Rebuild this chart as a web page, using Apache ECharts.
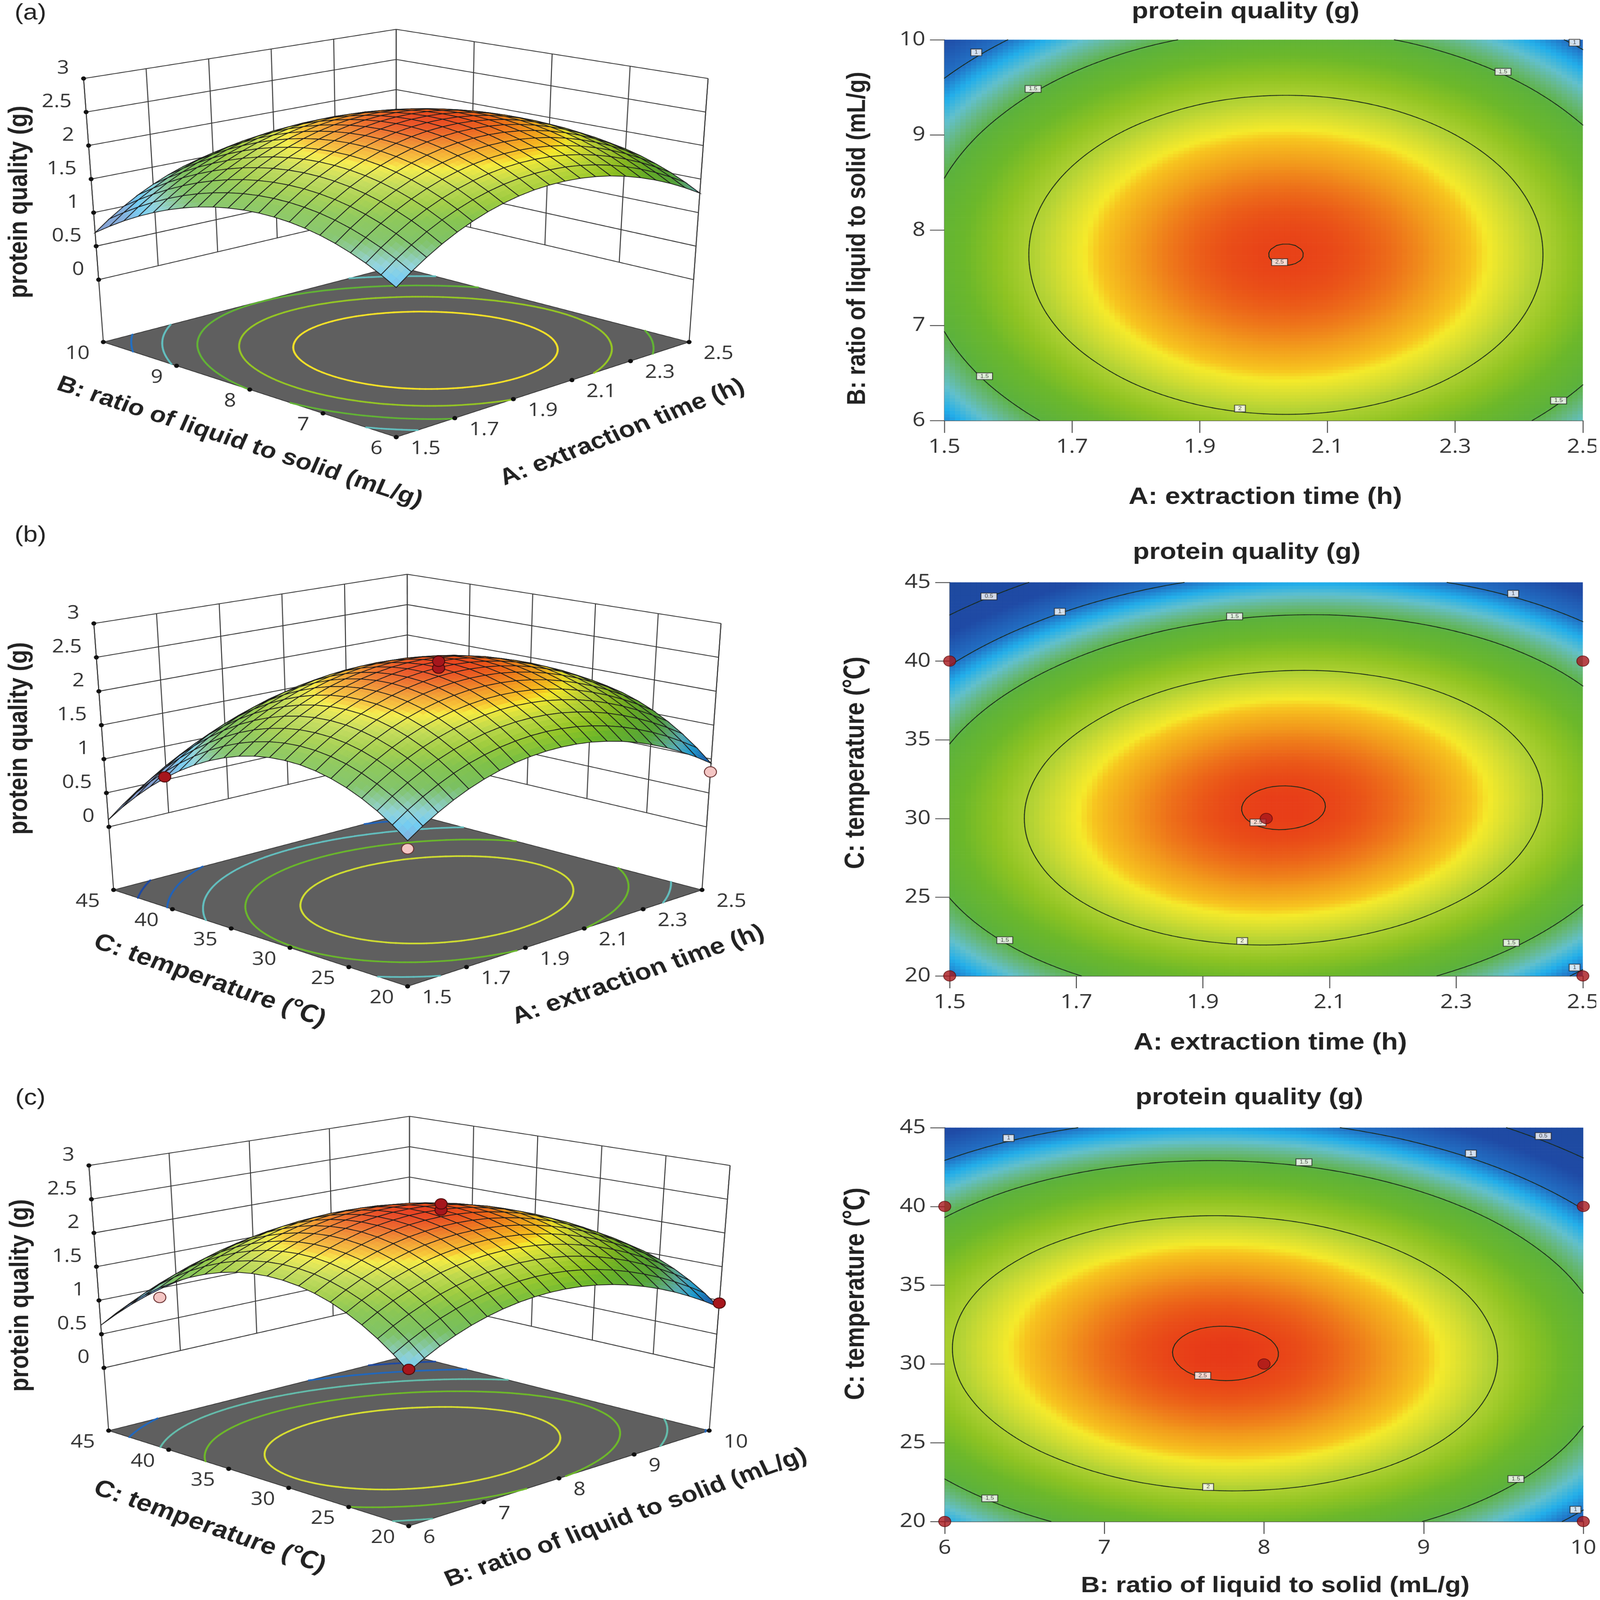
<!DOCTYPE html>
<html><head><meta charset="utf-8"><style>html,body{margin:0;padding:0;background:#fff;overflow:hidden}#c{width:4212px;height:4912px;transform-origin:0 0}</style>
<script src="https://cdn.jsdelivr.net/npm/echarts@6/dist/echarts.min.js"></script></head><body><div id="c"></div>
<script>
const A_TICKS=[1.5,1.7,1.9,2.1,2.3,2.5];
const B_TICKS=[6,7,8,9,10];
const C_TICKS=[20,25,30,35,40,45];
const Z_TICKS=[0,0.5,1,1.5,2,2.5,3];
// rows: second factor ascending, columns: first factor ascending (21 x 21)
const valuesAB=[
[1.074,1.232,1.374,1.502,1.613,1.709,1.790,1.855,1.905,1.939,1.957,1.960,1.948,1.920,1.877,1.818,1.743,1.653,1.548,1.427,1.291],
[1.191,1.349,1.491,1.619,1.730,1.826,1.907,1.972,2.022,2.056,2.074,2.077,2.065,2.037,1.994,1.935,1.860,1.770,1.665,1.544,1.408],
[1.295,1.453,1.595,1.723,1.834,1.930,2.011,2.076,2.126,2.160,2.178,2.181,2.169,2.141,2.098,2.039,1.964,1.874,1.769,1.648,1.512],
[1.383,1.541,1.683,1.811,1.922,2.018,2.099,2.164,2.214,2.248,2.266,2.269,2.257,2.229,2.186,2.127,2.052,1.962,1.857,1.736,1.600],
[1.458,1.616,1.758,1.886,1.997,2.093,2.174,2.239,2.289,2.323,2.341,2.344,2.332,2.304,2.261,2.202,2.127,2.037,1.932,1.811,1.675],
[1.518,1.676,1.818,1.946,2.057,2.153,2.234,2.299,2.349,2.383,2.401,2.404,2.392,2.364,2.321,2.262,2.187,2.097,1.992,1.871,1.735],
[1.564,1.722,1.864,1.992,2.103,2.199,2.280,2.345,2.395,2.429,2.447,2.450,2.438,2.410,2.367,2.308,2.233,2.143,2.038,1.917,1.781],
[1.595,1.753,1.895,2.023,2.134,2.230,2.311,2.376,2.426,2.460,2.478,2.481,2.469,2.441,2.398,2.339,2.264,2.174,2.069,1.948,1.812],
[1.612,1.770,1.912,2.040,2.151,2.247,2.328,2.393,2.443,2.477,2.495,2.498,2.486,2.458,2.415,2.356,2.281,2.191,2.086,1.965,1.829],
[1.615,1.773,1.915,2.043,2.154,2.250,2.331,2.396,2.446,2.480,2.498,2.501,2.489,2.461,2.418,2.359,2.284,2.194,2.089,1.968,1.832],
[1.604,1.762,1.904,2.032,2.143,2.239,2.320,2.385,2.435,2.469,2.487,2.490,2.478,2.450,2.407,2.348,2.273,2.183,2.078,1.957,1.821],
[1.578,1.736,1.878,2.006,2.117,2.213,2.294,2.359,2.409,2.443,2.461,2.464,2.452,2.424,2.381,2.322,2.247,2.157,2.052,1.931,1.795],
[1.538,1.696,1.838,1.966,2.077,2.173,2.254,2.319,2.369,2.403,2.421,2.424,2.412,2.384,2.341,2.282,2.207,2.117,2.012,1.891,1.755],
[1.484,1.642,1.784,1.912,2.023,2.119,2.200,2.265,2.315,2.349,2.367,2.370,2.358,2.330,2.287,2.228,2.153,2.063,1.958,1.837,1.701],
[1.415,1.573,1.715,1.843,1.954,2.050,2.131,2.196,2.246,2.280,2.298,2.301,2.289,2.261,2.218,2.159,2.084,1.994,1.889,1.768,1.632],
[1.332,1.490,1.632,1.760,1.871,1.967,2.048,2.113,2.163,2.197,2.215,2.218,2.206,2.178,2.135,2.076,2.001,1.911,1.806,1.685,1.549],
[1.234,1.392,1.534,1.662,1.773,1.869,1.950,2.015,2.065,2.099,2.117,2.120,2.108,2.080,2.037,1.978,1.903,1.813,1.708,1.587,1.451],
[1.123,1.281,1.423,1.551,1.662,1.758,1.839,1.904,1.954,1.988,2.006,2.009,1.997,1.969,1.926,1.867,1.792,1.702,1.597,1.476,1.340],
[0.997,1.155,1.297,1.425,1.536,1.632,1.713,1.778,1.828,1.862,1.880,1.883,1.871,1.843,1.800,1.741,1.666,1.576,1.471,1.350,1.214],
[0.856,1.014,1.156,1.284,1.395,1.491,1.572,1.637,1.687,1.721,1.739,1.742,1.730,1.702,1.659,1.600,1.525,1.435,1.330,1.209,1.073],
[0.702,0.860,1.002,1.130,1.241,1.337,1.418,1.483,1.533,1.567,1.585,1.588,1.576,1.548,1.505,1.446,1.371,1.281,1.176,1.055,0.919]];
const valuesAC=[
[1.007,1.149,1.276,1.389,1.486,1.567,1.632,1.684,1.718,1.738,1.742,1.731,1.705,1.662,1.605,1.533,1.444,1.341,1.222,1.088,0.938],
[1.163,1.307,1.436,1.549,1.648,1.731,1.797,1.850,1.885,1.907,1.913,1.902,1.878,1.836,1.781,1.710,1.622,1.521,1.404,1.270,1.122],
[1.298,1.443,1.573,1.688,1.788,1.872,1.940,1.994,2.031,2.054,2.061,2.052,2.029,1.989,1.935,1.865,1.779,1.679,1.563,1.431,1.284],
[1.411,1.558,1.689,1.806,1.907,1.992,2.062,2.117,2.155,2.180,2.188,2.180,2.159,2.120,2.068,1.999,1.914,1.816,1.701,1.570,1.425],
[1.504,1.652,1.784,1.902,2.005,2.092,2.162,2.219,2.259,2.285,2.294,2.288,2.268,2.231,2.179,2.112,2.029,1.932,1.818,1.689,1.545],
[1.575,1.725,1.859,1.978,2.082,2.170,2.242,2.300,2.341,2.369,2.380,2.375,2.356,2.320,2.270,2.204,2.122,2.026,1.915,1.787,1.644],
[1.626,1.776,1.912,2.032,2.138,2.227,2.301,2.360,2.403,2.431,2.444,2.440,2.423,2.388,2.340,2.275,2.195,2.100,1.990,1.863,1.722],
[1.656,1.807,1.944,2.066,2.173,2.264,2.339,2.400,2.443,2.473,2.487,2.485,2.469,2.436,2.389,2.325,2.246,2.153,2.044,1.919,1.779],
[1.663,1.816,1.954,2.078,2.186,2.278,2.354,2.417,2.462,2.493,2.508,2.508,2.493,2.461,2.415,2.354,2.276,2.184,2.076,1.953,1.814],
[1.650,1.804,1.944,2.068,2.178,2.272,2.349,2.413,2.459,2.492,2.509,2.509,2.496,2.466,2.421,2.361,2.284,2.194,2.088,1.965,1.828],
[1.615,1.771,1.912,2.038,2.149,2.244,2.323,2.388,2.436,2.470,2.488,2.490,2.478,2.449,2.406,2.347,2.272,2.183,2.078,1.957,1.821],
[1.560,1.717,1.859,1.987,2.099,2.195,2.276,2.342,2.391,2.427,2.446,2.450,2.439,2.411,2.370,2.312,2.238,2.151,2.047,1.927,1.793],
[1.482,1.641,1.785,1.913,2.027,2.125,2.206,2.274,2.325,2.362,2.382,2.387,2.378,2.352,2.311,2.255,2.183,2.097,1.994,1.876,1.743],
[1.384,1.544,1.689,1.819,1.934,2.033,2.116,2.185,2.237,2.276,2.298,2.304,2.296,2.271,2.232,2.177,2.106,2.022,1.921,1.804,1.672],
[1.265,1.427,1.573,1.705,1.821,1.922,2.006,2.076,2.130,2.169,2.193,2.200,2.194,2.170,2.133,2.079,2.010,1.926,1.827,1.711,1.581],
[1.125,1.287,1.435,1.568,1.686,1.788,1.874,1.946,2.000,2.041,2.066,2.075,2.070,2.048,2.012,1.960,1.891,1.809,1.711,1.597,1.468],
[0.962,1.126,1.276,1.410,1.529,1.632,1.720,1.793,1.849,1.891,1.917,1.928,1.924,1.903,1.868,1.818,1.751,1.670,1.573,1.461,1.333],
[0.780,0.945,1.096,1.231,1.352,1.457,1.545,1.620,1.677,1.721,1.749,1.760,1.758,1.739,1.705,1.656,1.590,1.511,1.416,1.304,1.178],
[0.575,0.742,0.894,1.031,1.153,1.259,1.349,1.425,1.484,1.529,1.558,1.571,1.570,1.552,1.520,1.472,1.408,1.330,1.236,1.126,1.001],
[0.351,0.519,0.672,0.811,0.934,1.041,1.133,1.210,1.271,1.317,1.347,1.362,1.362,1.345,1.315,1.268,1.205,1.129,1.036,0.928,0.804],
[0.104,0.274,0.429,0.568,0.693,0.802,0.895,0.973,1.035,1.083,1.115,1.130,1.132,1.117,1.087,1.042,0.981,0.906,0.814,0.707,0.585]];
const valuesBC=[
[1.144,1.267,1.377,1.472,1.553,1.619,1.671,1.709,1.733,1.742,1.737,1.718,1.684,1.636,1.574,1.497,1.407,1.302,1.182,1.049,0.901],
[1.322,1.444,1.553,1.648,1.727,1.793,1.845,1.882,1.905,1.914,1.908,1.889,1.854,1.805,1.743,1.665,1.574,1.469,1.349,1.214,1.066],
[1.477,1.599,1.707,1.801,1.880,1.946,1.997,2.033,2.056,2.064,2.057,2.037,2.002,1.952,1.889,1.812,1.720,1.614,1.493,1.358,1.209],
[1.612,1.733,1.841,1.934,2.012,2.077,2.127,2.163,2.185,2.193,2.185,2.165,2.129,2.079,2.015,1.937,1.844,1.737,1.616,1.480,1.331],
[1.725,1.846,1.953,2.046,2.123,2.187,2.237,2.272,2.294,2.301,2.292,2.271,2.235,2.184,2.120,2.041,1.948,1.840,1.718,1.582,1.432],
[1.817,1.937,2.043,2.135,2.212,2.276,2.325,2.359,2.380,2.386,2.378,2.356,2.319,2.267,2.203,2.123,2.029,1.921,1.798,1.662,1.511],
[1.887,2.007,2.112,2.204,2.280,2.343,2.392,2.425,2.446,2.451,2.442,2.420,2.382,2.330,2.264,2.184,2.090,1.981,1.858,1.720,1.569],
[1.937,2.056,2.160,2.251,2.327,2.389,2.437,2.470,2.490,2.495,2.485,2.462,2.424,2.371,2.305,2.224,2.129,2.020,1.896,1.758,1.606],
[1.964,2.082,2.187,2.277,2.352,2.414,2.461,2.493,2.513,2.517,2.506,2.483,2.444,2.390,2.324,2.242,2.146,2.037,1.912,1.773,1.621],
[1.970,2.088,2.192,2.282,2.356,2.417,2.464,2.495,2.514,2.518,2.507,2.482,2.443,2.389,2.322,2.239,2.143,2.033,1.907,1.768,1.615],
[1.955,2.072,2.175,2.264,2.338,2.398,2.445,2.476,2.494,2.497,2.485,2.460,2.420,2.365,2.297,2.214,2.117,2.006,1.881,1.741,1.587],
[1.920,2.036,2.138,2.227,2.300,2.360,2.405,2.436,2.453,2.456,2.443,2.418,2.377,2.321,2.253,2.169,2.072,1.960,1.834,1.693,1.539],
[1.862,1.978,2.080,2.167,2.240,2.299,2.344,2.374,2.391,2.393,2.379,2.353,2.312,2.256,2.187,2.103,2.004,1.892,1.765,1.624,1.469],
[1.782,1.898,1.999,2.086,2.158,2.216,2.261,2.290,2.306,2.307,2.294,2.267,2.225,2.168,2.098,2.014,1.915,1.802,1.674,1.533,1.377],
[1.682,1.797,1.897,1.984,2.055,2.113,2.156,2.185,2.201,2.201,2.187,2.159,2.117,2.060,1.989,1.904,1.804,1.691,1.562,1.420,1.264],
[1.560,1.674,1.774,1.860,1.931,1.988,2.031,2.059,2.074,2.074,2.059,2.031,1.988,1.930,1.859,1.773,1.673,1.559,1.430,1.287,1.130],
[1.418,1.531,1.631,1.716,1.786,1.843,1.885,1.912,1.927,1.926,1.910,1.882,1.838,1.779,1.708,1.621,1.520,1.406,1.276,1.132,0.975],
[1.253,1.366,1.465,1.549,1.619,1.675,1.717,1.743,1.757,1.756,1.740,1.710,1.666,1.607,1.534,1.447,1.346,1.231,1.100,0.956,0.798],
[1.068,1.180,1.278,1.362,1.431,1.486,1.527,1.554,1.567,1.565,1.548,1.518,1.473,1.413,1.340,1.252,1.150,1.034,0.903,0.758,0.600],
[0.860,0.972,1.069,1.153,1.221,1.276,1.316,1.342,1.354,1.352,1.334,1.303,1.258,1.197,1.124,1.035,0.933,0.816,0.685,0.539,0.380],
[0.632,0.743,0.840,0.922,0.990,1.044,1.084,1.109,1.121,1.117,1.099,1.068,1.022,0.961,0.887,0.797,0.694,0.577,0.445,0.299,0.139]];
const contourLevelsAB=[1,1.5,2,2.5];
const contourLevelsAC=[0.5,1,1.5,2,2.5];
const contourLevelsBC=[0.5,1,1.5,2,2.5];
const floorLevelsAB=[1,1.3,1.6,1.9,2.2];
const floorLevelsAC=[0.5,0.9,1.3,1.7,2.1];
const floorLevelsBC=[0.54,0.94,1.33,1.73,2.12];
const contourTagsAB=[[1.55,9.867,'1'],[1.639,9.483,'1.5'],[2.375,9.664,'1.5'],[2.487,9.969,'1'],[1.563,6.465,'1.5'],[1.963,6.126,'2'],[2.462,6.21,'1.5'],[2.025,7.664,'2.5']];
const contourTagsAC=[[1.562,44.11,'0.5'],[1.674,43.14,'1'],[1.95,42.84,'1.5'],[2.39,44.28,'1'],[1.587,22.27,'1.5'],[1.962,22.22,'2'],[2.387,22.1,'1.5'],[2.487,20.53,'1'],[1.987,29.75,'2.5']];
const contourTagsBC=[[6.4,44.34,'1'],[8.25,42.81,'1.5'],[9.296,43.36,'1'],[9.749,44.47,'0.5'],[6.282,21.47,'1.5'],[7.65,22.19,'2'],[9.578,22.7,'1.5'],[9.951,20.75,'1'],[7.616,29.26,'2.5']];
const runsAC=[[1.5,40],[2.5,40],[1.5,20],[2.5,20],[2,30]];
const runsBC=[[6,40],[10,40],[6,20],[10,20],[8,30]];
const runsAC3D=[[1.5,20,0.90,'low'],[2.5,20,0.81,'low'],[1.5,40,0.98,'high'],[2,30,2.50,'high'],[2,30,2.60,'high']];
const runsBC3D=[[6,40,1.28,'low'],[6,20,1.17,'high'],[10,20,0.96,'high'],[8,30,2.50,'high'],[8,30,2.59,'high']];

const colorStops=[[0,'#1d4a9e'],[0.7,'#1f4aa5'],[1.0,'#2270c4'],[1.15,'#22aeea'],[1.28,'#62c0cc'],[1.4,'#66b880'],[1.52,'#5cb23c'],[1.72,'#6cb82a'],[1.88,'#90c422'],[2.03,'#b5d335'],[2.14,'#e0e230'],[2.19,'#f5ea2a'],[2.235,'#f7c51f'],[2.335,'#f29a1c'],[2.467,'#ea5218'],[2.52,'#e73818']]
 .map(s=>[s[0],[parseInt(s[1].slice(1,3),16),parseInt(s[1].slice(3,5),16),parseInt(s[1].slice(5,7),16)]]);
function rampRGB(v){
  if(v<=colorStops[0][0])return colorStops[0][1];
  for(let k=1;k<colorStops.length;k++){ if(v<=colorStops[k][0]){const a=colorStops[k-1],b=colorStops[k],t=(v-a[0])/(b[0]-a[0]);return [0,1,2].map(c=>a[1][c]+(b[1][c]-a[1][c])*t);} }
  return colorStops[colorStops.length-1][1];
}
const css=c=>'rgb('+Math.round(c[0])+','+Math.round(c[1])+','+Math.round(c[2])+')';
const NUM='"Open Sans","Liberation Sans",sans-serif';
const BOLD='"Liberation Sans","Noto Sans CJK SC",sans-serif';
const Z_FLOOR=-0.93,Z_TOP=3;
const NAME_A='A: extraction time (h)',NAME_B='B: ratio of liquid to solid (mL/g)',NAME_C='C: temperature (℃)',NAME_Z='protein quality (g)';

const panels=[
 {label:'(a)',labelY:41,xT:A_TICKS,yT:B_TICKS,M:valuesAB,lv:contourLevelsAB,fl:floorLevelsAB,tags:contourTagsAB,runs:[],runs3D:[],
  grid:[2486,4168,122,1291],title:[3279,36],
  xText:[NAME_A,3331,1527,72],yText:[NAME_B,2258,732,69],
  f:{F:[1043,1342],R:[1814,1050],L:[272,1050],B:[1043,817]},t:{F:[1043,441],R:[1864,241],L:[220,241],B:[1043,90]},
  zName:[52,620],uText:[NAME_A,1638,1328,70,24.5],vText:[NAME_B,631,1358,69,20.7]},
 {label:'(b)',labelY:1644,xT:A_TICKS,yT:C_TICKS,M:valuesAC,lv:contourLevelsAC,fl:floorLevelsAC,tags:contourTagsAC,runs:runsAC,runs3D:runsAC3D,
  grid:[2500,4168,1788,2996],title:[3282,1696],
  xText:[NAME_A,3344,3202,72],yText:[NAME_C,2254,2342,72],
  f:{F:[1073,3028],R:[1848,2732],L:[299,2732],B:[1073,2495]},t:{F:[1073,2121],R:[1898,1914],L:[247,1914],B:[1072,1763]},
  zName:[52,2267],uText:[NAME_A,1680,2993,71,22],vText:[NAME_C,552,3011,72,22]},
 {label:'(c)',labelY:3372,xT:B_TICKS,yT:C_TICKS,M:valuesBC,lv:contourLevelsBC,fl:floorLevelsBC,tags:contourTagsBC,runs:runsBC,runs3D:runsBC3D,
  grid:[2487,4168,3462,4671],title:[3289,3370],
  xText:[NAME_B,3357,4869,69],yText:[NAME_C,2254,3972,72],
  f:{F:[1076,4685],R:[1867,4392],L:[286,4392],B:[1078,4160]},t:{F:[1076,3785],R:[1922,3578],L:[234,3578],B:[1078,3427]},
  zName:[55,3977],uText:[NAME_B,1648,4660,69,22.3],vText:[NAME_C,552,4688,72,22]}
];

// fine resampling used only to trace smooth contour curves from the grid
const FN=100,SUB=5;
function at(M,j,i){
  if(i<0)return 3*at(M,j,0)-3*at(M,j,1)+at(M,j,2);
  if(i>20)return 3*at(M,j,20)-3*at(M,j,19)+at(M,j,18);
  if(j<0)return 3*at(M,0,i)-3*at(M,1,i)+at(M,2,i);
  if(j>20)return 3*at(M,20,i)-3*at(M,19,i)+at(M,18,i);
  return M[j][i];
}
const cr=(a,b,c,d,t)=>0.5*(2*b+(c-a)*t+(2*a-5*b+4*c-d)*t*t+(3*b-a-3*c+d)*t*t*t);
function fine(M){
  const F=[];
  for(let y=0;y<=FN;y++){const jy=Math.min(Math.floor(y/SUB),19),ty=y/SUB-jy;const row=[];
    for(let x=0;x<=FN;x++){const ix=Math.min(Math.floor(x/SUB),19),tx=x/SUB-ix;const c=[];
      for(let q=-1;q<=2;q++)c.push(cr(at(M,jy+q,ix-1),at(M,jy+q,ix),at(M,jy+q,ix+1),at(M,jy+q,ix+2),tx));
      row.push(cr(c[0],c[1],c[2],c[3],ty));}
    F.push(row);}
  return F;
}
function trace(F,L){
  const S=[];
  for(let j=0;j<FN;j++)for(let i=0;i<FN;i++){
    const a=F[j][i],b=F[j][i+1],c=F[j+1][i+1],d=F[j+1][i],P=[];
    if((a<L)!==(b<L))P.push([(i+(L-a)/(b-a))/FN,j/FN]);
    if((b<L)!==(c<L))P.push([(i+1)/FN,(j+(L-b)/(c-b))/FN]);
    if((d<L)!==(c<L))P.push([(i+(L-d)/(c-d))/FN,(j+1)/FN]);
    if((a<L)!==(d<L))P.push([i/FN,(j+(L-a)/(d-a))/FN]);
    if(P.length>=2)S.push([P[0],P[1]]);
    if(P.length===4)S.push([P[2],P[3]]);
  }
  return S;
}
panels.forEach(p=>{const F=fine(p.M);p.segs={};p.lv.forEach(L=>p.segs[L]=trace(F,L));p.fsegs={};p.fl.forEach(L=>p.fsegs[L]=trace(F,L));});

function proj(p,u,v,z){
  const w=(z-Z_FLOOR)/(Z_TOP-Z_FLOOR);
  const mix=o=>[0,1].map(k=>o.F[k]*(1-u)*(1-v)+o.R[k]*u*(1-v)+o.L[k]*(1-u)*v+o.B[k]*u*v);
  const a=mix(p.f),b=mix(p.t);
  return [a[0]+(b[0]-a[0])*w,a[1]+(b[1]-a[1])*w];
}
const uOf=(t,val)=>(val-t[0])/(t[t.length-1]-t[0]);

function frameItem(p){
  const ch=[];
  const line=(a,b,w,c)=>ch.push({type:'line',shape:{x1:a[0],y1:a[1],x2:b[0],y2:b[1]},style:{stroke:c||'#3a3a3a',lineWidth:w||2.6}});
  const txt=(s,x,y,al)=>ch.push({type:'text',style:{text:s,x:x,y:y,align:al,verticalAlign:'middle',fill:'#333',font:'56px '+NUM}});
  const dot=q=>ch.push({type:'circle',shape:{cx:q[0],cy:q[1],r:6.5},style:{fill:'#111'}});
  const c=[proj(p,0,0,Z_FLOOR),proj(p,1,0,Z_FLOOR),proj(p,1,1,Z_FLOOR),proj(p,0,1,Z_FLOOR)];
  Z_TICKS.forEach(z=>{
    line(proj(p,0,1,z),proj(p,1,1,z));line(proj(p,1,0,z),proj(p,1,1,z));
  });
  p.xT.forEach(t=>{const u=uOf(p.xT,t);line(proj(p,u,1,0),proj(p,u,1,Z_TOP));});
  p.yT.forEach(t=>{const v=uOf(p.yT,t);line(proj(p,1,v,0),proj(p,1,v,Z_TOP));});
  line(proj(p,0,1,Z_FLOOR),proj(p,0,1,Z_TOP));
  line(proj(p,1,0,Z_FLOOR),proj(p,1,0,Z_TOP));
  ch.push({type:'polygon',shape:{points:c},style:{fill:'#5f5f5f',stroke:'#333',lineWidth:2}});
  p.fl.forEach(L=>{
    const col=css(rampRGB(L));
    p.fsegs[L].forEach(s=>{const a=proj(p,s[0][0],s[0][1],Z_FLOOR),b=proj(p,s[1][0],s[1][1],Z_FLOOR);
      ch.push({type:'line',shape:{x1:a[0],y1:a[1],x2:b[0],y2:b[1]},style:{stroke:col,lineWidth:5,lineCap:'round'}});});
  });
  Z_TICKS.forEach(z=>{const q=proj(p,0,1,z);dot(q);txt(String(z),q[0]-38,q[1]-31,'right');});
  p.yT.forEach(t=>{const q=proj(p,0,uOf(p.yT,t),Z_FLOOR);dot(q);txt(String(t),q[0]-36,q[1]+36,'right');});
  p.xT.forEach(t=>{const q=proj(p,uOf(p.xT,t),0,Z_FLOOR);dot(q);txt(p.xT===A_TICKS?t.toFixed(1):String(t),q[0]+38,q[1]+36,'left');});
  return {type:'group',children:ch};
}
function shadeAt(p,j,i){
  return (i===0?p.M[j][1]-p.M[j][0]:i===20?p.M[j][20]-p.M[j][19]:(p.M[j][i+1]-p.M[j][i-1])/2)*20;
}
function litColor(v,s){
  const c=rampRGB(v);
  const extra=v<1.4?Math.min(0.2,(1.4-v)*0.5):0;
  if(s>=-0.7){const w=Math.min(0.45,Math.max(0,0.05+0.07*s)+extra);return c.map(x=>x+(255-x)*w);}
  const k=Math.min(0.14,(-s-0.7)*0.06);return c.map(x=>x*(1-k));
}
function cellItem(p,i,j){
  const M=p.M,ch=[],n=3;
  const v00=M[j][i],v10=M[j][i+1],v01=M[j+1][i],v11=M[j+1][i+1];
  const s00=shadeAt(p,j,i),s10=shadeAt(p,j,i+1),s01=shadeAt(p,j+1,i),s11=shadeAt(p,j+1,i+1);
  const bl=(a,b,c,d,x,y)=>a*(1-x)*(1-y)+b*x*(1-y)+c*(1-x)*y+d*x*y;
  const pt=(x,y)=>proj(p,(i+x)/20,(j+y)/20,bl(v00,v10,v01,v11,x,y));
  for(let a=n-1;a>=0;a--)for(let b=n-1;b>=0;b--){
    const x0=a/n,x1=(a+1)/n,y0=b/n,y1=(b+1)/n,xm=(x0+x1)/2,ym=(y0+y1)/2;
    const col=css(litColor(bl(v00,v10,v01,v11,xm,ym),bl(s00,s10,s01,s11,xm,ym)));
    ch.push({type:'polygon',shape:{points:[pt(x0,y0),pt(x1,y0),pt(x1,y1),pt(x0,y1)]},style:{fill:col,stroke:col,lineWidth:0.9}});
  }
  ch.push({type:'polygon',shape:{points:[pt(0,0),pt(1,0),pt(1,1),pt(0,1)]},style:{fill:'none',stroke:'#1c1c1c',lineWidth:2.2}});
  return {type:'group',children:ch};
}

const option={animation:false,backgroundColor:'#fff',grid:[],xAxis:[],yAxis:[],series:[],graphic:[]};
const deg=Math.PI/180;
const gtext=(s,x,y,font,rot)=>option.graphic.push({type:'text',x:x,y:y,rotation:rot||0,z:50,style:{text:s,font:font,fill:'#222',align:'center',verticalAlign:'middle'}});

panels.forEach((p,k)=>{
  const g=p.grid;
  const xa=p.xT,ya=p.yT,xmin=xa[0],xmax=xa[xa.length-1],ymin=ya[0],ymax=ya[ya.length-1];
  option.grid.push({left:g[0],width:g[1]-g[0],top:g[2],height:g[3]-g[2],containLabel:false});
  const axisCommon={axisLine:{show:true,onZero:false,lineStyle:{color:'#444',width:2.5}},axisTick:{show:true,length:38,lineStyle:{color:'#444',width:2.5}},splitLine:{show:false}};
  option.xAxis.push(Object.assign({},axisCommon,{gridIndex:k,type:'value',min:xmin,max:xmax,interval:xa[1]-xa[0],axisLabel:{fontFamily:NUM,fontSize:60,color:'#333',margin:52,showMaxLabel:true,hideOverlap:false,formatter:v=>xa===A_TICKS?v.toFixed(1):String(Math.round(v))}}));
  option.yAxis.push(Object.assign({},axisCommon,{gridIndex:k,type:'value',min:ymin,max:ymax,interval:ya[1]-ya[0],axisLabel:{fontFamily:NUM,fontSize:60,color:'#333',margin:50}}));
  // heat field cells
  const cells=[];
  for(let j=0;j<20;j++)for(let i=0;i<20;i++){cells.push([xmin+(xmax-xmin)*i/20,ymin+(ymax-ymin)*j/20,xmin+(xmax-xmin)*(i+1)/20,ymin+(ymax-ymin)*(j+1)/20,i,j]);}
  option.series.push({type:'custom',xAxisIndex:k,yAxisIndex:k,coordinateSystem:'cartesian2d',silent:true,progressive:0,z:2,encode:{x:[0,2],y:[1,3]},data:cells,
    renderItem:(params,api)=>{
      const i=api.value(4),j=api.value(5),a=api.coord([api.value(0),api.value(1)]),b=api.coord([api.value(2),api.value(3)]);
      const M=p.M,n=6,ch=[],dx=(b[0]-a[0])/n,dy=(b[1]-a[1])/n;
      for(let q=0;q<n;q++)for(let r=0;r<n;r++){
        const tx=(r+0.5)/n,ty=(q+0.5)/n;
        const v=M[j][i]*(1-tx)*(1-ty)+M[j][i+1]*tx*(1-ty)+M[j+1][i]*(1-tx)*ty+M[j+1][i+1]*tx*ty;
        const x=a[0]+r*dx,y=a[1]+q*dy+dy;
        ch.push({type:'rect',shape:{x:x,y:y-0.3,width:dx+(i===19&&r===n-1?0:0.7),height:-dy+0.6},style:{fill:css(rampRGB(v))}});
      }
      return {type:'group',children:ch};
    }});
  // contour lines
  option.series.push({type:'custom',xAxisIndex:k,yAxisIndex:k,coordinateSystem:'cartesian2d',silent:true,progressive:0,z:3,encode:{x:0,y:1},data:p.lv.map(L=>[xmin,ymin,L]),
    renderItem:(params,api)=>{
      const L=api.value(2),segs=p.segs[L],ch=[];
      segs.forEach(s=>{const a=api.coord([xmin+(xmax-xmin)*s[0][0],ymin+(ymax-ymin)*s[0][1]]),b=api.coord([xmin+(xmax-xmin)*s[1][0],ymin+(ymax-ymin)*s[1][1]]);
        ch.push({type:'line',shape:{x1:a[0],y1:a[1],x2:b[0],y2:b[1]},style:{stroke:'#1a2a1a',lineWidth:2.4,lineCap:'round'}});});
      return {type:'group',children:ch};
    }});
  // contour tags
  option.series.push({type:'scatter',xAxisIndex:k,yAxisIndex:k,z:4,symbolSize:1,itemStyle:{color:'rgba(0,0,0,0)'},data:p.tags,silent:true,
    label:{show:true,position:'inside',formatter:q=>q.value[2],backgroundColor:'#fff',borderColor:'#222',borderWidth:2,padding:[2,9,1,9],color:'#222',fontFamily:BOLD,fontSize:16}});
  // design points
  if(p.runs.length)option.series.push({type:'scatter',xAxisIndex:k,yAxisIndex:k,z:5,clip:false,symbol:'circle',symbolSize:32,silent:true,itemStyle:{color:'#a6161c',borderColor:'#5a0a0a',borderWidth:2},data:p.runs});
  // 3D frame
  option.series.push({type:'custom',coordinateSystem:'none',silent:true,progressive:0,z:1,data:[[k]],renderItem:()=>frameItem(p)});
  const mark=(lvl,col,bc,z)=>{
    const pts=p.runs3D.filter(r=>r[3]===lvl);
    if(pts.length)option.series.push({type:'custom',coordinateSystem:'none',silent:true,progressive:0,z:z,data:pts.map(r=>[r[0],r[1],r[2]]),
      renderItem:(params,api)=>{const q=proj(p,uOf(p.xT,api.value(0)),uOf(p.yT,api.value(1)),api.value(2));
        return {type:'circle',shape:{cx:q[0],cy:q[1],r:16},style:{fill:col,stroke:bc,lineWidth:2.5}};}});
  };
  mark('low','#f4c6c4','#6a3030',1.5);
  // surface, back to front
  const sc=[];for(let i=19;i>=0;i--)for(let j=19;j>=0;j--)sc.push([i,j]);
  option.series.push({type:'custom',coordinateSystem:'none',silent:true,progressive:0,z:2,data:sc,renderItem:(params,api)=>cellItem(p,api.value(0),api.value(1))});
  mark('high','#a6161c','#4a0a0a',3);
  // free text
  gtext(p.label,80,p.labelY,'68px "Liberation Sans",sans-serif');
  gtext(NAME_Z,p.title[0],p.title[1],'bold 71px '+BOLD);
  gtext(NAME_Z,p.zName[0],p.zName[1],'bold 70px '+BOLD,90*deg);
  gtext(p.xText[0],p.xText[1],p.xText[2],'bold '+p.xText[3]+'px '+BOLD);
  gtext(p.yText[0],p.yText[1],p.yText[2],'bold '+p.yText[3]+'px '+BOLD,90*deg);
  gtext(p.uText[0],p.uText[1],p.uText[2],'bold '+p.uText[3]+'px '+BOLD,p.uText[4]*deg);
  gtext(p.vText[0],p.vText[1],p.vText[2],'bold '+p.vText[3]+'px '+BOLD,-p.vText[4]*deg);
});
option.graphic.push({type:'rect',z:60,shape:{x:4202,y:0,width:10,height:4912},style:{fill:'#fff'}});
const host=document.getElementById('c');
// the window may be smaller than the requested canvas: fit the whole figure into it
host.style.transform='scale('+(window.innerWidth/4212)+','+(window.innerHeight/4912)+')';
const chart=echarts.init(host,null,{renderer:'canvas',width:4212,height:4912});
chart.setOption(option);
</script></body></html>
